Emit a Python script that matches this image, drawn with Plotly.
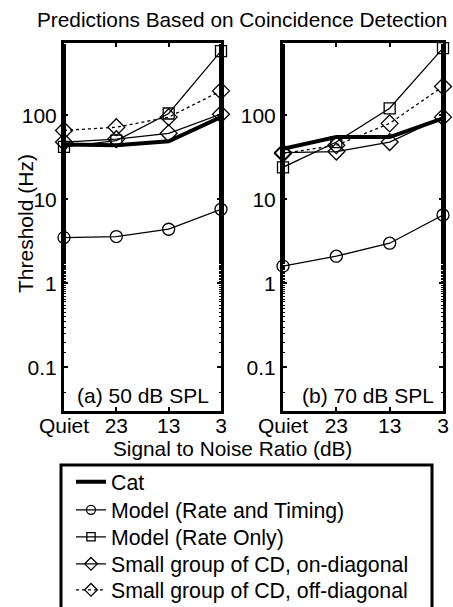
import plotly.graph_objects as go

# ---- data ----
snr_labels = ["Quiet", "23", "13", "3"]

cat_50 = [45, 44, 49, 95]
rate_timing_50 = [3.5, 3.6, 4.4, 7.6]
rate_only_50 = [42, 50, 105, 580]
on_diag_50 = [48, 52, 61, 103]
off_diag_50 = [66, 72, 95, 195]

cat_70 = [40, 55, 55, 92]
rate_timing_70 = [1.6, 2.1, 3.0, 6.5]
rate_only_70 = [24, 48, 121, 630]
on_diag_70 = [36, 37, 48, 95]
off_diag_70 = [35, 44, 80, 220]

series_names = ["Cat", "Model (Rate and Timing)", "Model (Rate Only)",
                "Small group of CD, on-diagonal", "Small group of CD, off-diagonal"]
panel_labels = ["(a) 50 dB SPL", "(b) 70 dB SPL"]

W, H = 453, 607
FONT = "Liberation Sans, Arial, Helvetica, sans-serif"
FS = 21

def style(i, legend=False):
    k = 0.75 if legend else 1.0
    lw = 1.3
    if i == 0:
        return dict(mode="lines", line=dict(color="black", width=4))
    sym = {1: ("circle-open", 12), 2: ("square-open", 11),
           3: ("diamond-open", 13), 4: ("diamond-open", 13)}[i]
    return dict(mode="lines+markers",
                line=dict(color="black", width=lw, dash="dot" if i == 4 else "solid"),
                marker=dict(symbol=sym[0], size=sym[1] * k, color="black",
                            line=dict(width=1.3)))

fig = go.Figure()
panels = [
    ("x", "y", [cat_50, rate_timing_50, rate_only_50, on_diag_50, off_diag_50]),
    ("x2", "y2", [cat_70, rate_timing_70, rate_only_70, on_diag_70, off_diag_70]),
]
for xa, ya, data in panels:
    for i, (name, vals) in enumerate(zip(series_names, data)):
        fig.add_trace(go.Scatter(x=snr_labels, y=vals, name=name, xaxis=xa, yaxis=ya,
                                 showlegend=False, cliponaxis=False, **style(i)))

# legend entries (one legend per entry so spacing matches)
legend_names = ["legend", "legend2", "legend3", "legend4", "legend5"]
for i, name in enumerate(series_names):
    fig.add_trace(go.Scatter(x=[None], y=[None], name=name, xaxis="x", yaxis="y",
                             showlegend=True, legend=legend_names[i], **style(i, True)))

def px_x(p):
    return p / W

def px_y(p):
    return 1 - p / H

ydom = [px_y(411), px_y(43)]
axis_common = dict(showline=True, linecolor="black", linewidth=3, mirror="ticks",
                   ticks="inside", ticklen=4, tickwidth=2, tickcolor="black",
                   showgrid=False, zeroline=False, automargin=False,
                   tickfont=dict(family=FONT, size=FS, color="black"))
xcommon = dict(axis_common, type="category", range=[0, 3],
               categoryorder="array", categoryarray=snr_labels,
               ticklabelstandoff=-6)
ycommon = dict(axis_common, type="log", range=[-1.52, 2.86],
               tickvals=[0.1, 1, 10, 100], ticktext=["0.1", "1", "10", "100"],
               minor=dict(ticks="inside", ticklen=2, tickcolor="black", tickwidth=1))

layout = dict(
    width=W, height=H,
    margin=dict(l=0, r=0, t=0, b=0, autoexpand=False),
    paper_bgcolor="white", plot_bgcolor="white",
    font=dict(family=FONT, size=FS, color="black"),
    xaxis=dict(xcommon, domain=[px_x(64), px_x(221)], anchor="y"),
    yaxis=dict(ycommon, domain=ydom, anchor="x"),
    xaxis2=dict(xcommon, domain=[px_x(283), px_x(443)], anchor="y2"),
    yaxis2=dict(ycommon, domain=ydom, anchor="x2"),
    showlegend=True,
)
legend_y = [482, 510, 537, 564, 590]
for ln, yy in zip(legend_names, legend_y):
    layout[ln] = dict(x=px_x(71), y=px_y(yy), xanchor="left", yanchor="middle",
                      bgcolor="rgba(0,0,0,0)", borderwidth=0,
                      font=dict(family=FONT, size=21.3, color="black"))
fig.update_layout(**layout)

def ann(text, x, y, xref="paper", angle=0, size=FS):
    return dict(text=text, x=x, y=y, xref=xref, yref="paper", showarrow=False,
                xanchor="center", yanchor="middle", textangle=angle,
                font=dict(family=FONT, size=size, color="black"))

annotations = [
    ann("Predictions Based on Coincidence Detection", px_x(242), px_y(19), size=20.8),
    ann("Threshold (Hz)", px_x(25), px_y(224), angle=-90),
    ann("Signal to Noise Ratio (dB)", px_x(233), px_y(448), size=20.8),
    ann(panel_labels[0], 0.5, px_y(396), xref="x domain"),
    ann(panel_labels[1], 0.53, px_y(395), xref="x2 domain"),
]
fig.update_layout(annotations=annotations)

fig.add_shape(type="rect", xref="paper", yref="paper",
              x0=px_x(61), x1=px_x(432), y0=px_y(640), y1=px_y(465),
              line=dict(color="black", width=3), fillcolor="rgba(0,0,0,0)")

fig.write_html("out.html")
